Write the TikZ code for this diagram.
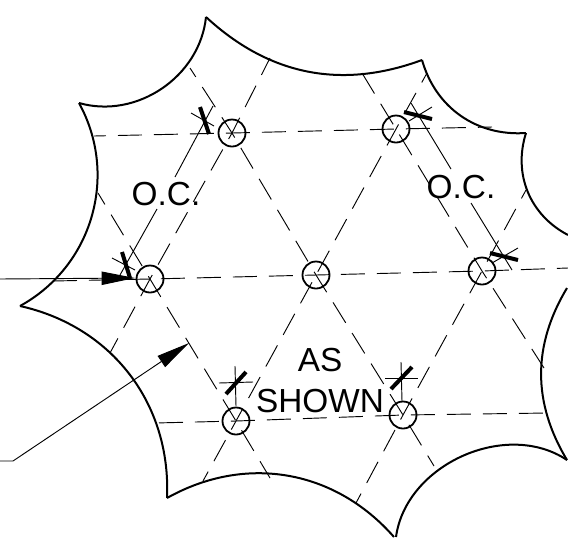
\documentclass[tikz,border=0pt]{standalone}
\usepackage{fontspec}
\setmainfont{Liberation Sans}
\usetikzlibrary{arrows.meta}

\begin{document}
\begin{tikzpicture}[
	x=0.75pt, y=-0.75pt,
	outline/.style={line width=1.5pt, black},
	center/.style={line width=0.7pt, black, dash pattern=on 18pt off 9pt},
	thinline/.style={line width=0.7pt, black},
	ticks/.style={line width=3pt, black},
	hole/.style={circle, draw, line width=1.35pt, minimum size=20.25pt, inner sep=0pt},
	label/.style={font=\fontsize{25}{30.75}\selectfont, align=center, inner sep=0pt},
	arrow/.style={thinline, -{Triangle[length=25pt,width=10pt]}}
	]
	\useasboundingbox (0,0) rectangle (568,537);

	% outline cusps
	\coordinate (P1) at (206,17);
	\coordinate (P2) at (79,103);
	\coordinate (P3) at (20,306);
	\coordinate (P4) at (167,498);
	\coordinate (P5) at (394,537);
	\coordinate (P6) at (396,537);
	\coordinate (P7) at (567,460);
	\coordinate (P8) at (567,288);
	\coordinate (P9) at (568,235);
	\coordinate (P10) at (526,133);
	\coordinate (P11) at (422,60);

	\draw [outline] (P1) to[bend left=50] (P2);
	\draw [outline] (P2) to[bend left=45] (P3);
	\draw [outline] (P3) to[bend left=40] (P4);
	\draw [outline] (P4) to[bend left=39] (P5);
	\draw [outline] (P6) to[bend left=58] (P7);
	\draw [outline] (P7) to[bend left=31] (P8);
	\draw [outline] (P9) to[bend left=40] (P10);
	\draw [outline] (P10) to[bend left=39] (P11);
	\draw [outline] (P11) to[bend left=31.5] (P1);

	% holes
	\node (H1) [hole] at (232,133) {};
	\node (H2) [hole] at (396,129) {};
	\node (H3) [hole] at (150,279) {};
	\node (H4) [hole] at (316,275) {};
	\node (H5) [hole] at (482,271) {};
	\node (H6) [hole] at (236,421) {};
	\node (H7) [hole] at (403,415) {};

	% center line ends
	\coordinate (A1) at (94,136);
	\coordinate (A2) at (492,127);
	\coordinate (B1) at (53,281);
	\coordinate (B2) at (568,268);
	\coordinate (C1) at (155,423);
	\coordinate (C2) at (548,413);
	\coordinate (D1) at (110,353);
	\coordinate (D2) at (270,58);
	\coordinate (E1) at (203,481);
	\coordinate (E2) at (427,73);
	\coordinate (F1) at (356,503);
	\coordinate (F2) at (526,190);
	\coordinate (G1) at (190,68);
	\coordinate (G2) at (434,466);
	\coordinate (I1) at (98,193);
	\coordinate (I2) at (270,478);
	\coordinate (J1) at (362,73);
	\coordinate (J2) at (544,368);

	% center lines
	\draw [center, dash phase=9pt] (A1) -- (H1.center) -- (H2.center) -- (A2);
	\draw [center] (B1) -- (H3.center) -- (H4.center) -- (H5.center) -- (B2);
	\draw [center, dash phase=24pt] (C1) -- (H6.center) -- (H7.center) -- (C2);
	\draw [center, dash phase=5.5pt] (D1) -- (H3.center) -- (H1.center) -- (D2);
	\draw [center, dash phase=10pt] (E1) -- (H6.center) -- (H4.center) -- (H2.center) -- (E2);
	\draw [center, dash phase=10pt] (F1) -- (H7.center) -- (H5.center) -- (F2);
	\draw [center, dash phase=10pt] (G1) -- (H1.center) -- (H4.center) -- (H7.center) -- (G2);
	\draw [center, dash phase=8pt] (I1) -- (H3.center) -- (H6.center) -- (I2);
	\draw [center] (J1) -- (H2.center) -- (H5.center) -- (J2);

	% dimension O.C. left
	\coordinate (K1) at (213,106);
	\coordinate (K2) at (175,177);
	\coordinate (K3) at (157,209);
	\coordinate (K4) at (120,275);
	\draw [thinline] (K1) -- (K2);
	\draw [thinline] (K3) -- (K4);
	\coordinate (K5) at (191,113);
	\coordinate (K6) at (214,126);
	\coordinate (K7) at (112,258);
	\coordinate (K8) at (135,270);
	\draw [thinline] (K5) -- (K6);
	\draw [thinline] (K7) -- (K8);
	\coordinate (K9) at (200,107);
	\coordinate (K10) at (209,134);
	\coordinate (K11) at (122,252);
	\coordinate (K12) at (130,278);
	\draw [ticks] (K9) -- (K10);
	\draw [ticks] (K11) -- (K12);

	% dimension O.C. right
	\coordinate (L1) at (411,103);
	\coordinate (L2) at (451,169);
	\coordinate (L3) at (471,203);
	\coordinate (L4) at (512,270);
	\draw [thinline] (L1) -- (L2);
	\draw [thinline] (L3) -- (L4);
	\coordinate (L5) at (409,121);
	\coordinate (L6) at (432,107);
	\coordinate (L7) at (492,263);
	\coordinate (L8) at (518,248);
	\draw [thinline] (L5) -- (L6);
	\draw [thinline] (L7) -- (L8);
	\coordinate (L9) at (404,112);
	\coordinate (L10) at (432,119);
	\coordinate (L11) at (490,253);
	\coordinate (L12) at (518,260);
	\draw [ticks] (L9) -- (L10);
	\draw [ticks] (L11) -- (L12);

	% dimension as shown
	\coordinate (M1) at (235,366);
	\coordinate (M2) at (236,406);
	\coordinate (M3) at (219,383);
	\coordinate (M4) at (253,382);
	\coordinate (M5) at (226,394);
	\coordinate (M6) at (246,372);
	\draw [thinline] (M1) -- (M2);
	\draw [thinline] (M3) -- (M4);
	\draw [ticks] (M5) -- (M6);
	\coordinate (N1) at (401,362);
	\coordinate (N2) at (402,401);
	\coordinate (N3) at (385,378);
	\coordinate (N4) at (418,378);
	\coordinate (N5) at (391,389);
	\coordinate (N6) at (412,367);
	\draw [thinline] (N1) -- (N2);
	\draw [thinline] (N3) -- (N4);
	\draw [ticks] (N5) -- (N6);

	% leaders
	\coordinate (Q1) at (0,279);
	\coordinate (Q2) at (135,278);
	\coordinate (Q3) at (0,461);
	\coordinate (Q4) at (13,461);
	\coordinate (Q5) at (189,343);
	\draw [arrow] (Q1) -- (Q2);
	\draw [arrow] (Q3) -- (Q4) -- (Q5);

	% labels
	\node (OCL) [label] at (166,194) {O.C.};
	\node (OCR) [label] at (461,187) {O.C.};
	\node (AS) [label] at (320,381) {AS\\SHOWN};
\end{tikzpicture}
\end{document}
